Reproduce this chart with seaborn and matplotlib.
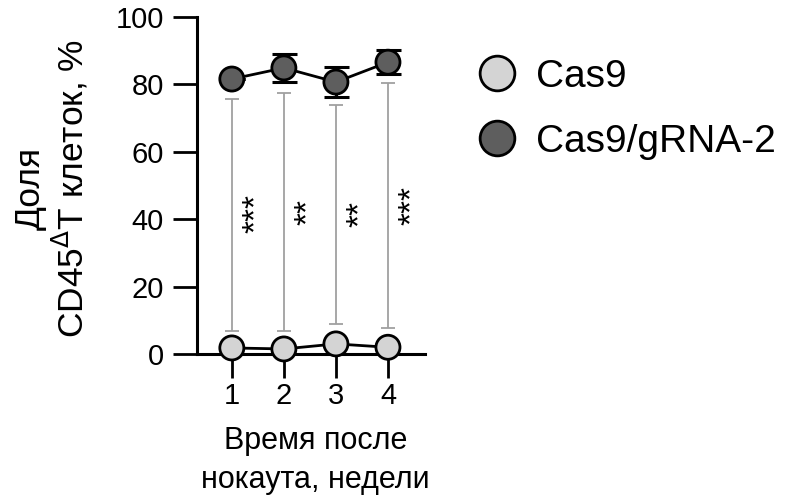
import matplotlib
matplotlib.use("Agg")
import matplotlib.pyplot as plt
from matplotlib.lines import Line2D
import seaborn as sns
import pandas as pd

weeks = [1, 2, 3, 4]
cas9 = [1.8, 1.5, 3.0, 2.0]
grna = [81.6, 84.9, 80.7, 86.6]
grna_err = [0.0, 4.2, 4.4, 3.6]
sig_low = [6.8, 6.8, 8.9, 7.7]
sig_high = [75.6, 77.4, 73.9, 80.4]
stars = ["***", "**", "**", "***"]
star_y = [41.8, 42.0, 41.5, 44.0]
groups = ["Cas9", "Cas9/gRNA-2"]
colors = {"Cas9": "#d4d4d4", "Cas9/gRNA-2": "#5e5e5e"}

df = pd.DataFrame({
    "week": weeks * 2,
    "value": cas9 + grna,
    "group": [groups[0]] * 4 + [groups[1]] * 4,
})

sns.set_style("ticks")
plt.rcParams["font.family"] = ["Liberation Sans", "DejaVu Sans"]
for k in ["text.color", "axes.labelcolor", "xtick.color", "ytick.color", "axes.edgecolor"]:
    plt.rcParams[k] = "black"

fig = plt.figure(figsize=(7.86, 5.01), dpi=100)
ax = fig.add_axes([0.2506, 0.2934, 0.29, 0.6726])

# significance whiskers
ax.errorbar(weeks, [(a + b) / 2 for a, b in zip(sig_low, sig_high)],
            yerr=[(b - a) / 2 for a, b in zip(sig_low, sig_high)],
            fmt="none", ecolor="#a0a0a0", elinewidth=1.3, capsize=5, capthick=1.3, zorder=1)
for x, s, y in zip(weeks, stars, star_y):
    ax.text(x + 0.47, y, s, rotation=90, ha="center", va="center", fontsize=24, color="black")

# error bars for gRNA
ax.errorbar(weeks, grna, yerr=grna_err, fmt="none", ecolor="black",
            elinewidth=2.2, capsize=9, capthick=2.2, zorder=2)

sns.lineplot(data=df, x="week", y="value", hue="group", palette=["black", "black"],
             legend=False, ax=ax, linewidth=2, zorder=3)
sns.scatterplot(data=df, x="week", y="value", hue="group", palette=colors,
                legend=False, ax=ax, s=300, edgecolor="black", linewidth=2, zorder=4, clip_on=False)

ax.set_xlim(0.33, 4.71)
ax.set_ylim(0, 100)
ax.set_yticks([0, 20, 40, 60, 80, 100])
ax.set_xticks(weeks)
ax.tick_params(axis="both", length=17, width=2, labelsize=21, color="black")
ax.tick_params(axis="y", pad=7)
ax.tick_params(axis="x", pad=3)
for sp in ["top", "right"]:
    ax.spines[sp].set_visible(False)
ax.spines["left"].set_linewidth(2.2)
ax.spines["bottom"].set_linewidth(2.2)
ax.spines["bottom"].set_position(("data", 0))
ax.set_xlabel("Время после\nнокаута, недели", fontsize=22, linespacing=1.35)
ax.set_ylabel("Доля\nCD45$^{\\Delta}$T клеток, %", fontsize=25.5, linespacing=1.1)
ax.xaxis.set_label_coords(0.52, -0.215)
ax.yaxis.set_label_coords(-0.467, 0.49)

handles = [Line2D([], [], marker="o", linestyle="none", markersize=25,
                  markerfacecolor=colors[g], markeredgecolor="black", markeredgewidth=2)
           for g in groups]
fig.legend(handles, groups, loc="upper left", bbox_to_anchor=(0.563, 0.914), frameon=False,
           fontsize=28, handletextpad=0.0, labelspacing=0.75, borderaxespad=0)

fig.savefig("out.png", dpi=100)
